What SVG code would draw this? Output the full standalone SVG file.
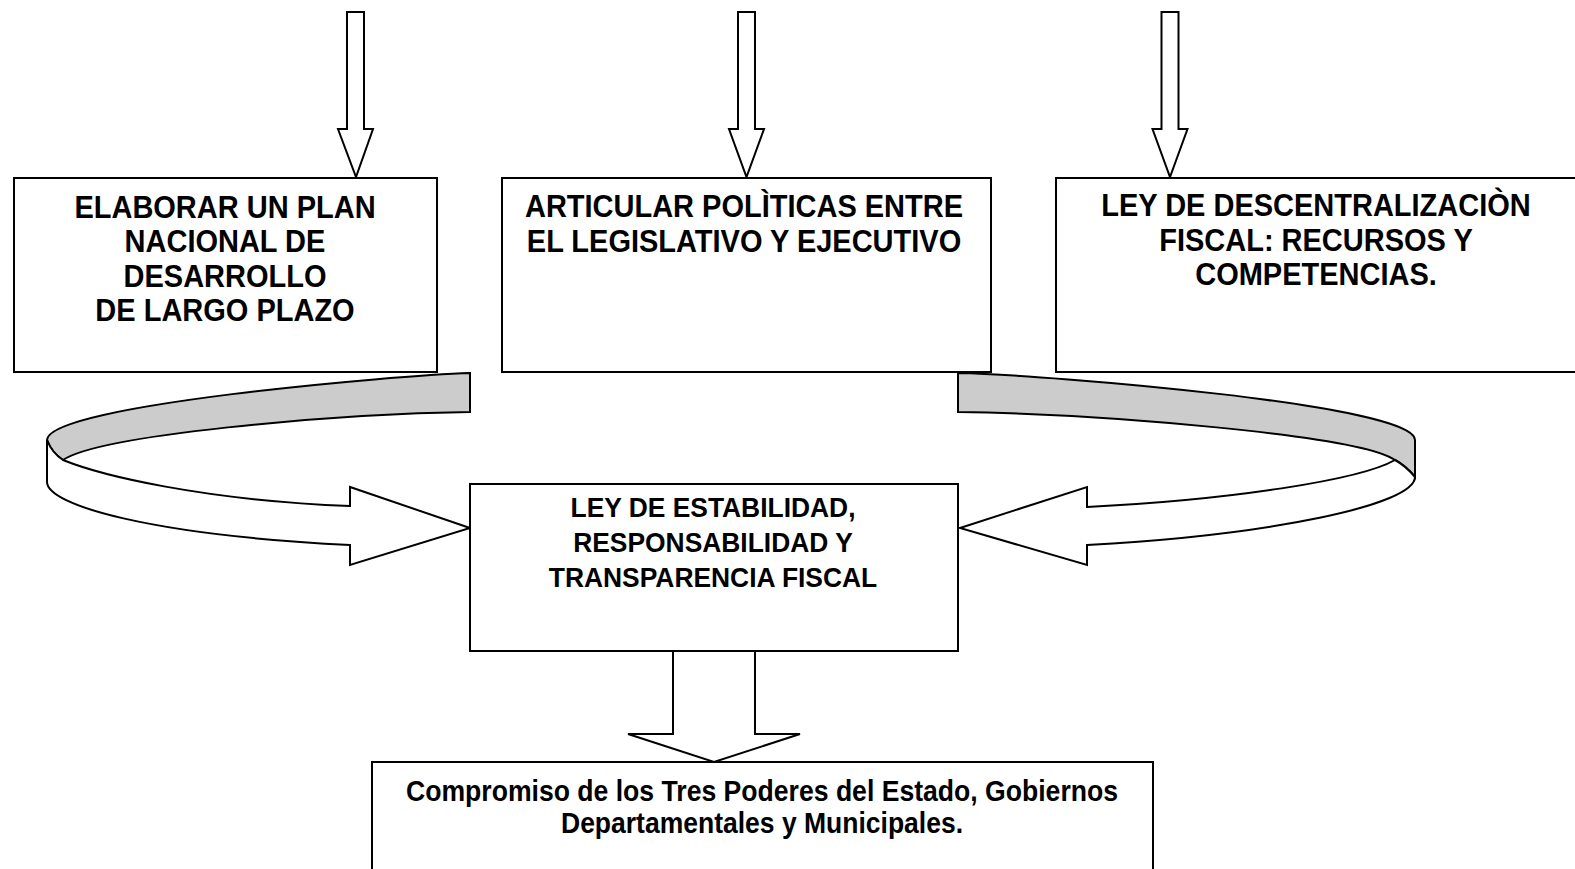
<svg xmlns="http://www.w3.org/2000/svg" width="1575" height="869" viewBox="0 0 1575 869">
<style>
.box{fill:#fff;stroke:#000;stroke-width:2}
.arr{fill:#fff;stroke:#000;stroke-width:2;stroke-linejoin:miter}
.band{fill:#cccccc;stroke:#000;stroke-width:2}
.t{font-family:"Liberation Sans",Arial,sans-serif;font-weight:bold;fill:#000;text-anchor:middle}
.t1{font-size:29px}
.t2{font-size:26.4px}
.t3{font-size:29px}
</style>
<rect width="1575" height="869" fill="#fff"/>
<g id="connectors">
<polygon class="arr" points="347,12 364,12 364,129 373,129 356,177 338,129 347,129"/>
<polygon class="arr" points="738,12 755,12 755,129 764,129 746.5,177 729,129 738,129"/>
<polygon class="arr" points="1161.5,12 1178.5,12 1178.5,129 1187.5,129 1170,177 1152.5,129 1161.5,129"/>
<polygon class="arr" points="673,651 755,651 755,734 800,734 714,762 628,734 673,734"/>
<g id="curve-left">
<path class="band" d="M470,373 C400,375 47,405 47,440 Q52,453 63,460 C100,435 330,414 470,412 Z"/>
<path class="arr" d="M47,440 L47,482 C47,505 150,535 350,545 L350,565 L470,528 L350,487 L350,506 C200,500 100,475 63,460 Q52,453 47,440 Z"/>
</g>
<g id="curve-right">
<path class="band" d="M958,373 C1050,375 1415,405 1415,440 L1415,477 Q1406,466 1395,460 C1360,435 1100,414 958,412 Z"/>
<path class="arr" d="M1415,477 C1415,505 1270,535 1087,545 L1087,565 L960,528 L1087,487 L1087,507 C1230,500 1360,480 1395,460 Q1406,466 1415,477 Z"/>
</g>
</g>
<g id="node-plan">
<rect class="box" x="14" y="178" width="423" height="194"/>
<text class="t t1" x="225" y="218" transform="matrix(1,0,0,1.08,0,-17.44)">ELABORAR UN PLAN</text>
<text class="t t1" x="225" y="252.5" transform="matrix(1,0,0,1.08,0,-20.2)">NACIONAL DE</text>
<text class="t t1" x="225" y="287" transform="matrix(1,0,0,1.08,0,-22.96)">DESARROLLO</text>
<text class="t t1" x="225" y="321.5" transform="matrix(1,0,0,1.08,0,-25.72)">DE LARGO PLAZO</text>
</g>
<g id="node-articular">
<rect class="box" x="502" y="178" width="489" height="194"/>
<text class="t t1" x="744" y="217.5" transform="matrix(1,0,0,1.08,0,-17.4)">ARTICULAR POLÌTICAS ENTRE</text>
<text class="t t1" x="744" y="252" transform="matrix(1,0,0,1.08,0,-20.16)">EL LEGISLATIVO Y EJECUTIVO</text>
</g>
<g id="node-ley-descentralizacion">
<rect class="box" x="1056" y="178" width="522" height="194"/>
<text class="t t1" x="1316" y="216.5" transform="matrix(1,0,0,1.08,0,-17.32)">LEY DE DESCENTRALIZACIÒN</text>
<text class="t t1" x="1316" y="251" transform="matrix(1,0,0,1.08,0,-20.08)">FISCAL: RECURSOS Y</text>
<text class="t t1" x="1316" y="285.5" transform="matrix(1,0,0,1.08,0,-22.84)">COMPETENCIAS.</text>
</g>
<g id="node-ley-estabilidad">
<rect class="box" x="470" y="484" width="488" height="167"/>
<text class="t t2" x="713" y="517" transform="matrix(1,0,0,1.08,0,-41.36)">LEY DE ESTABILIDAD,</text>
<text class="t t2" x="713" y="552.5" transform="matrix(1,0,0,1.08,0,-44.2)">RESPONSABILIDAD Y</text>
<text class="t t2" x="713" y="587" transform="matrix(1,0,0,1.08,0,-46.96)">TRANSPARENCIA FISCAL</text>
</g>
<g id="node-compromiso">
<rect class="box" x="372" y="762" width="781" height="120"/>
<text class="t t3" x="762" y="801" textLength="712" lengthAdjust="spacingAndGlyphs">Compromiso de los Tres Poderes del Estado, Gobiernos</text>
<text class="t t3" x="762" y="833" textLength="402" lengthAdjust="spacingAndGlyphs">Departamentales y Municipales.</text>
</g>
</svg>
